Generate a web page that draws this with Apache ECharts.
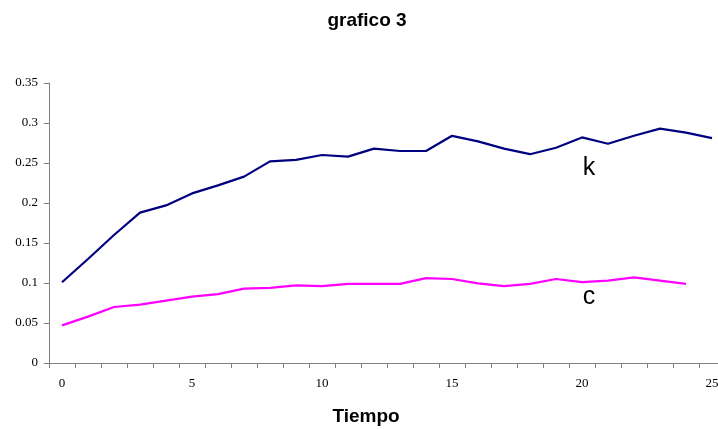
<!DOCTYPE html>
<html>
<head>
<meta charset="utf-8">
<script src="https://cdn.jsdelivr.net/npm/echarts@6/dist/echarts.min.js"></script>
<style>
html,body{margin:0;padding:0;background:#fff;overflow:hidden;}
/* the plot runs a few pixels past the right edge of the window */
#chart{width:730px;height:429px;}
</style>
</head>
<body>
<div id="chart"></div>
<script>
// Time steps 0..25
var tiempo = [];
for (var t = 0; t <= 25; t++) tiempo.push(String(t));

// Series k and c
var serieK = [0.101, 0.130, 0.160, 0.188, 0.197, 0.212, 0.222, 0.233, 0.252, 0.254,
              0.260, 0.258, 0.268, 0.265, 0.265, 0.284, 0.277, 0.268, 0.261, 0.269,
              0.282, 0.274, 0.284, 0.293, 0.288, 0.281];
var serieC = [0.047, 0.058, 0.070, 0.073, 0.078, 0.083, 0.086, 0.093, 0.094, 0.097,
              0.096, 0.099, 0.099, 0.099, 0.106, 0.105, 0.0995, 0.096, 0.099, 0.105,
              0.101, 0.103, 0.107, 0.103, 0.099];

var yTicks = { min: 0, max: 0.35, interval: 0.05 };

var chart = echarts.init(document.getElementById('chart'));
var axisColor = '#808080';
var serif = '"Liberation Serif", "Times New Roman", serif';
var sans = '"Liberation Sans", Arial, sans-serif';

chart.setOption({
  animation: false,
  backgroundColor: '#ffffff',
  grid: { left: 49, top: 83, width: 676, height: 280, containLabel: false },
  xAxis: {
    type: 'category',
    data: tiempo,
    boundaryGap: true,
    axisLine: { lineStyle: { color: axisColor, width: 1 } },
    axisTick: { show: true, interval: 0, length: 5, lineStyle: { color: axisColor } },
    axisLabel: { interval: 4, margin: 14, color: '#000', fontFamily: serif, fontSize: 13 },
    splitLine: { show: false }
  },
  yAxis: {
    type: 'value',
    min: yTicks.min, max: yTicks.max, interval: yTicks.interval,
    axisLine: { show: true, lineStyle: { color: axisColor, width: 1 } },
    axisTick: { show: true, length: 5, lineStyle: { color: axisColor } },
    axisLabel: { margin: 11, color: '#000', fontFamily: serif, fontSize: 13 },
    splitLine: { show: false }
  },
  series: [
    {
      name: 'k', type: 'line', data: serieK, symbol: 'none',
      lineStyle: { color: '#000080', width: 2.2 }
    },
    {
      name: 'c', type: 'line', data: serieC, symbol: 'none',
      lineStyle: { color: '#ff00ff', width: 2.2 }
    }
  ],
  graphic: [
    { type: 'text', x: 367, y: 21,
      style: { text: 'grafico 3', font: 'bold 19px ' + sans, fill: '#000', align: 'center', verticalAlign: 'middle' } },
    { type: 'text', x: 366, y: 417,
      style: { text: 'Tiempo', font: 'bold 19px ' + sans, fill: '#000', align: 'center', verticalAlign: 'middle' } },
    { type: 'text', x: 589, y: 168,
      style: { text: 'k', font: '25px ' + sans, fill: '#000', align: 'center', verticalAlign: 'middle' } },
    { type: 'text', x: 589, y: 297,
      style: { text: 'c', font: '25px ' + sans, fill: '#000', align: 'center', verticalAlign: 'middle' } }
  ]
});
</script>
</body>
</html>
